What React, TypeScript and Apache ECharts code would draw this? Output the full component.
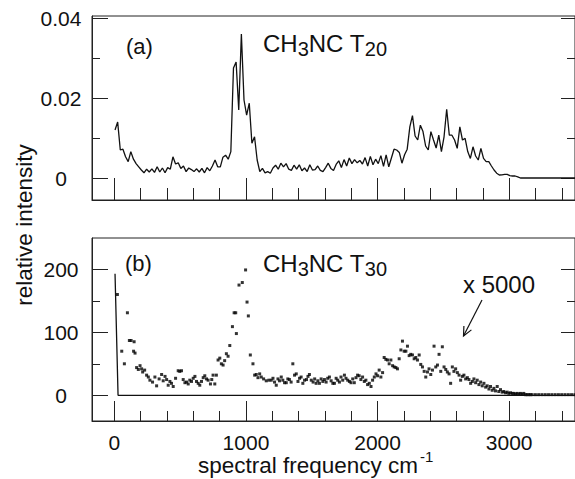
import React, { useEffect, useRef } from "react";
import * as echarts from "echarts";

const FONT = "'Liberation Sans', Arial, Helvetica, sans-serif";
const INK = "#111";

// (a) CH3NC T20 : relative intensity (in units of 0.001), sampled every 20 cm-1 from 5 cm-1
const T20_START = 5;
const T20_STEP = 20;
const t20Milli = [
  12, 14, 7, 7.2, 5.3, 4.1, 6.6, 4.7, 3.6, 2.8,
  2, 1.3, 2.2, 1.5, 2.3, 1.4, 2.8, 1.5, 2.5, 1.3,
  2.6, 2.2, 5.3, 3.5, 3.8, 2.4, 3, 1.6, 2.5, 2.1,
  1.6, 2.3, 1.5, 2.4, 1.3, 2.6, 1.8, 3, 4.5, 2.8,
  2.8, 5.2, 5.7, 4.7, 6.6, 27.5, 29, 17, 36, 19.5,
  15.7, 18.7, 8.7, 10.3, 4.5, 1.6, 2.4, 1.3, 1.6, 1.2,
  2.5, 3.2, 2.2, 3.7, 2.8, 3.6, 2.2, 1.9, 3.2, 2.2,
  3.3, 1.8, 2.5, 1.6, 3.3, 2, 2.1, 3, 1.9, 1.6,
  2.6, 3.7, 2.4, 1.9, 3.4, 4.3, 2.6, 4.6, 3, 5,
  3.6, 4.6, 3.8, 4.4, 3.5, 5.1, 3, 5.4, 3.3, 4.7,
  3.6, 5.6, 2.9, 5.8, 2.8, 5, 7.2, 7, 6.4, 3.7,
  5.8, 7.2, 12.8, 15.6, 10.5, 9.5, 13.2, 11.6, 8, 7,
  11.6, 9.5, 7.5, 10.7, 6.6, 10.3, 17.2, 10.7, 10.7, 9.5,
  7.4, 12.8, 9.5, 9.9, 6.6, 4.9, 7.8, 5.5, 4.5, 7.4,
  4.9, 4.1, 4.1, 3, 2, 1.2, 0.75, 0.8, 0.9, 0.9,
  0.6, 0.5, 0.5, 0.3, 0,
];
const T20_TAIL_END = 3500;

// (b) CH3NC T30 : scaled x 5000 (dots)
const t30Freq = [
  23, 56, 76, 99, 114, 127, 146, 150, 157, 169, 182, 195, 207, 215, 230, 245, 258, 270, 290, 308,
  321, 340, 359, 371, 385, 397, 409, 422, 434, 447, 465, 485, 497, 510, 523, 536, 548, 561, 573, 586,
  599, 612, 624, 637, 649, 662, 675, 687, 700, 712, 730, 740, 750, 763, 775, 788, 801, 813, 826, 838,
  851, 864, 877, 897, 910, 922, 927, 947, 972, 997, 1008, 1018, 1033, 1053, 1066, 1078, 1091, 1104, 1116, 1134,
  1154, 1174, 1192, 1205, 1217, 1230, 1243, 1255, 1268, 1280, 1293, 1306, 1318, 1330, 1343, 1356, 1369, 1382, 1395, 1407,
  1419, 1432, 1445, 1460, 1471, 1482, 1496, 1510, 1522, 1533, 1546, 1558, 1571, 1584, 1596, 1609, 1621, 1634, 1647, 1660,
  1672, 1685, 1697, 1710, 1722, 1735, 1748, 1760, 1773, 1786, 1798, 1811, 1823, 1836, 1848, 1860, 1873, 1886, 1899, 1911,
  1924, 1937, 1950, 1962, 1975, 1988, 2000, 2012, 2025, 2038, 2050, 2063, 2076, 2088, 2101, 2114, 2126, 2139, 2151, 2164,
  2177, 2189, 2202, 2215, 2227, 2240, 2252, 2265, 2278, 2290, 2303, 2316, 2328, 2341, 2354, 2366, 2379, 2391, 2404, 2417,
  2429, 2442, 2455, 2467, 2480, 2492, 2505, 2518, 2530, 2543, 2555, 2568, 2580, 2593, 2606, 2619, 2631, 2644, 2656, 2669,
  2682, 2694, 2707, 2720, 2732, 2745, 2757, 2770, 2783, 2795, 2808, 2821, 2833, 2846, 2858, 2871, 2884, 2896, 2909, 2921,
  2934, 2947, 2959, 2972, 2985, 2997, 3010, 3023, 3035, 3048, 3060, 3073, 3085, 3098, 3111, 3124, 3136, 3149, 3161, 3174,
  3199, 3224, 3249, 3274, 3299, 3324, 3349, 3374, 3399, 3424, 3449, 3474, 3499,
];
const t30Scaled = [
  160, 70, 50, 131, 87, 87, 70, 85, 67, 44, 41, 47, 42, 37, 40, 32, 29, 24, 21, 29,
  15, 26, 33, 23, 30, 25, 16, 22, 19, 14, 27, 39, 38, 39, 25, 20, 21, 18, 24, 22,
  27, 30, 22, 19, 16, 22, 28, 31, 26, 24, 18, 25, 32, 18, 32, 56, 59, 50, 48, 55,
  66, 62, 79, 109, 131, 131, 98, 175, 179, 199, 148, 126, 64, 50, 32, 33, 28, 34, 29, 26,
  23, 24, 24, 27, 21, 16, 26, 23, 29, 24, 20, 20, 26, 25, 21, 50, 32, 34, 22, 27,
  29, 19, 24, 25, 30, 33, 24, 21, 26, 19, 23, 19, 26, 22, 25, 21, 27, 29, 23, 19,
  19, 27, 24, 21, 29, 24, 32, 27, 24, 22, 20, 26, 20, 28, 32, 31, 25, 29, 22, 24,
  17, 19, 14, 24, 29, 34, 31, 40, 29, 36, 60, 57, 56, 50, 56, 47, 45, 44, 42, 58,
  72, 86, 70, 70, 78, 63, 65, 64, 58, 60, 56, 64, 49, 45, 38, 29, 37, 42, 33, 40,
  78, 45, 48, 65, 38, 77, 45, 41, 37, 34, 19, 45, 38, 42, 36, 32, 24, 30, 32, 26,
  28, 25, 19, 22, 26, 20, 24, 17, 21, 15, 19, 13, 15, 10, 14, 8, 11, 7, 14, 6,
  9, 5, 6, 4, 5, 3, 4, 3, 3, 2, 3, 2, 3, 2, 3, 1, 1, 1, 1, 1,
  1, 1, 1, 1, 1, 1, 1, 1, 1, 1, 1, 1, 1,
];

// (b) CH3NC T30 : unscaled (solid line)
const t30RawFreq = [5, 28, 3500];
const t30Raw = [193, 0, 0];

// axes
const X_MIN = -170;
const X_MAX = 3500;
const xMajorTicks = [0, 1000, 2000, 3000];
const xMinorTicks = [200, 400, 600, 800, 1200, 1400, 1600, 1800, 2200, 2400, 2600, 2800, 3200, 3400];
const TOP_MIN = -0.0055;
const TOP_MAX = 0.0405;
const topMajorTicks = [0, 0.02, 0.04];
const topMinorTicks = [0.01, 0.03];
const BOT_MIN = -40.8;
const BOT_MAX = 249.7;
const botMajorTicks = [0, 100, 200];
const botMinorTicks = [50, 150];

function yAxisDef(
  gridIndex: number,
  min: number,
  max: number,
  position: "left" | "right",
  ticks: number[],
  len: number,
  labels: boolean,
  axisLine: boolean,
  fmt?: (v: number) => string
) {
  return {
    type: "value",
    gridIndex,
    min,
    max,
    position,
    splitLine: { show: false },
    axisLine: { show: axisLine, onZero: false, lineStyle: { color: "#222", width: 1 } },
    axisTick: {
      show: true,
      inside: true,
      length: len,
      customValues: ticks,
      lineStyle: { color: "#222", width: 1 },
    },
    axisLabel: labels
      ? {
          show: true,
          customValues: ticks,
          align: "center",
          verticalAlign: "middle",
          margin: 31,
          fontSize: 21,
          fontFamily: FONT,
          color: INK,
          formatter: fmt || ((v: number) => String(v)),
        }
      : { show: false },
  };
}

function xAxisDef(gridIndex: number, ticks: number[], len: number, labels: boolean, axisLine: boolean) {
  return {
    type: "value",
    gridIndex,
    min: X_MIN,
    max: X_MAX,
    position: "bottom",
    splitLine: { show: false },
    axisLine: { show: axisLine, onZero: false, lineStyle: { color: "#222", width: 1 } },
    axisTick: {
      show: true,
      inside: true,
      length: len,
      customValues: ticks,
      lineStyle: { color: "#222", width: 1 },
    },
    axisLabel: labels
      ? {
          show: true,
          customValues: ticks,
          verticalAlign: "middle",
          lineHeight: 21,
          margin: 21,
          fontSize: 21,
          fontFamily: FONT,
          color: INK,
          formatter: (v: number) => String(v),
        }
      : { show: false },
  };
}

export default function App() {
  const ref = useRef<HTMLDivElement>(null);

  useEffect(() => {
    if (!ref.current) return;
    const chart = echarts.init(ref.current, null, { renderer: "svg" });

    const t20Data: number[][] = t20Milli.map((v, i) => [T20_START + i * T20_STEP, v / 1000]);
    t20Data.push([T20_TAIL_END, 0]);
    const t30Dots = t30Freq.map((f, i) => [f, t30Scaled[i]]);
    const t30Line = t30RawFreq.map((f, i) => [f, t30Raw[i]]);

    const topFmt = (v: number) => (v === 0 ? "0" : v.toFixed(2));

    const subRich = (main: number, sub: number) => ({
      m: { fontSize: main, fontFamily: FONT, fill: INK, lineHeight: 30 },
      s: { fontSize: sub, fontFamily: FONT, fill: INK, lineHeight: 15, verticalAlign: "bottom" },
    });

    const option: any = {
      animation: false,
      backgroundColor: "#fff",
      grid: [
        { left: 92, top: 16, width: 484, height: 184, show: true, borderColor: "#222", borderWidth: 1 },
        { left: 92, top: 238, width: 484, height: 183, show: true, borderColor: "#222", borderWidth: 1 },
      ],
      xAxis: [
        xAxisDef(0, xMajorTicks, 22, false, true),
        xAxisDef(0, xMinorTicks, 12, false, false),
        xAxisDef(1, xMajorTicks, 20, true, true),
        xAxisDef(1, xMinorTicks, 10, false, false),
      ],
      yAxis: [
        yAxisDef(0, TOP_MIN, TOP_MAX, "left", topMajorTicks, 16, true, true, topFmt),
        yAxisDef(0, TOP_MIN, TOP_MAX, "left", topMinorTicks, 8, false, false),
        yAxisDef(0, TOP_MIN, TOP_MAX, "right", topMajorTicks, 14, false, false),
        yAxisDef(0, TOP_MIN, TOP_MAX, "right", topMinorTicks, 8, false, false),
        yAxisDef(1, BOT_MIN, BOT_MAX, "left", botMajorTicks, 16, true, true),
        yAxisDef(1, BOT_MIN, BOT_MAX, "left", botMinorTicks, 8, false, false),
        yAxisDef(1, BOT_MIN, BOT_MAX, "right", botMajorTicks, 14, false, false),
        yAxisDef(1, BOT_MIN, BOT_MAX, "right", botMinorTicks, 8, false, false),
      ],
      series: [
        {
          type: "line",
          name: "T20",
          xAxisIndex: 0,
          yAxisIndex: 0,
          data: t20Data,
          showSymbol: false,
          symbol: "none",
          lineStyle: { color: INK, width: 1.3 },
        },
        {
          type: "line",
          name: "T30 raw",
          xAxisIndex: 2,
          yAxisIndex: 4,
          data: t30Line,
          showSymbol: false,
          symbol: "none",
          lineStyle: { color: INK, width: 1.3 },
        },
        {
          type: "scatter",
          name: "T30 x5000",
          xAxisIndex: 2,
          yAxisIndex: 4,
          data: t30Dots,
          symbol: "rect",
          symbolSize: 3,
          itemStyle: { color: "#000" },
        },
      ],
      graphic: [
        {
          type: "text",
          x: 126,
          y: 46,
          style: { text: "(a)", fontSize: 22, fontFamily: FONT, fill: INK, align: "left", verticalAlign: "middle" },
        },
        {
          type: "text",
          x: 125,
          y: 263,
          style: { text: "(b)", fontSize: 22, fontFamily: FONT, fill: INK, align: "left", verticalAlign: "middle" },
        },
        {
          type: "text",
          x: 263,
          y: 43.5,
          style: {
            text: "{m|CH}{s|3}{m|NC T}{s|20}",
            rich: subRich(24, 20),
            align: "left",
            verticalAlign: "middle",
          },
        },
        {
          type: "text",
          x: 263,
          y: 263.5,
          style: {
            text: "{m|CH}{s|3}{m|NC T}{s|30}",
            rich: subRich(24, 20),
            align: "left",
            verticalAlign: "middle",
          },
        },
        {
          type: "text",
          x: 463,
          y: 284,
          style: { text: "x 5000", fontSize: 24, fontFamily: FONT, fill: INK, align: "left", verticalAlign: "middle" },
        },
        {
          type: "line",
          shape: { x1: 482, y1: 300, x2: 463.5, y2: 336 },
          style: { stroke: INK, lineWidth: 1.2 },
        },
        {
          type: "polyline",
          shape: { points: [[471.4, 329.9], [463.5, 336], [463.9, 326]] },
          style: { stroke: INK, lineWidth: 1.2, fill: null },
        },
        {
          type: "text",
          x: 24,
          y: 225,
          rotation: Math.PI / 2,
          style: {
            text: "relative intensity",
            fontSize: 22.5,
            fontFamily: FONT,
            fill: INK,
            align: "center",
            verticalAlign: "middle",
          },
        },
        {
          type: "text",
          x: 418,
          y: 465.5,
          style: {
            text: "spectral frequency cm",
            fontSize: 22.5,
            fontFamily: FONT,
            fill: INK,
            align: "right",
            verticalAlign: "middle",
          },
        },
        {
          type: "text",
          x: 420,
          y: 456,
          style: { text: "-1", fontSize: 15, fontFamily: FONT, fill: INK, align: "left", verticalAlign: "middle" },
        },
      ],
    };

    chart.setOption(option);
    return () => chart.dispose();
  }, []);

  return (
    <div
      ref={ref}
      style={{ position: "absolute", left: 0, top: 0, width: 575, height: 479, background: "#fff" }}
    />
  );
}
